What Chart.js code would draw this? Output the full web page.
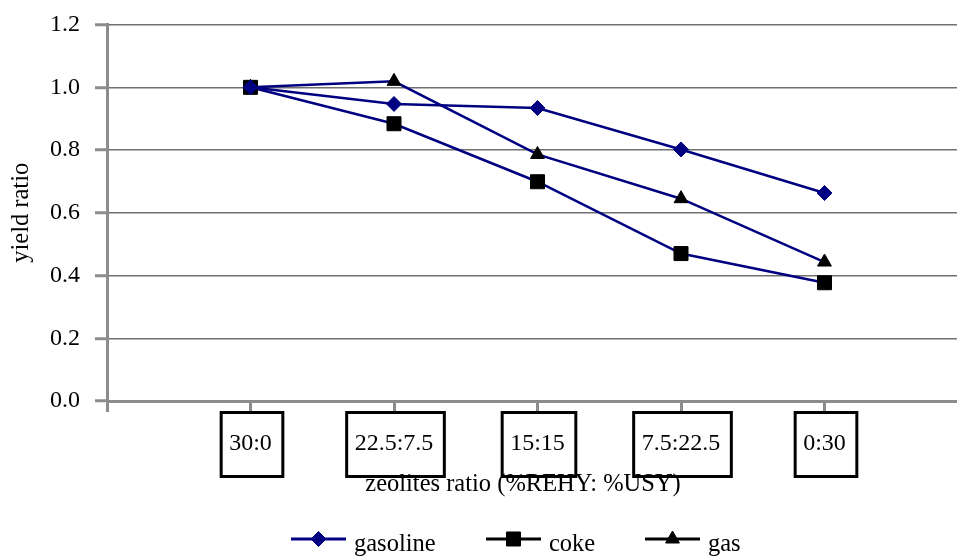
<!DOCTYPE html>
<html lang="en">
<head>
    <meta charset="UTF-8">
    <title>Yield ratio vs zeolites ratio</title>
    <style>
        body {
            margin: 0;
            padding: 0;
            background-color: #ffffff;
            overflow: hidden;
        }
        #wrap {
            width: 1000px;
            height: 559px;
        }
    </style>
</head>
<body>
    <div id="wrap"><canvas id="yieldChart" width="1000" height="559"></canvas></div>

    <script src="https://cdn.jsdelivr.net/npm/chart.js"></script>
    <script>
        // zeolite blends (%REHY : %USY)
        const categories = ['30:0', '22.5:7.5', '15:15', '7.5:22.5', '0:30'];
        const gasoline = [1.0, 0.947, 0.934, 0.802, 0.663];
        const coke = [1.0, 0.884, 0.699, 0.470, 0.377];
        const gas = [1.0, 1.019, 0.786, 0.645, 0.443];
        const yTicks = [0.0, 0.2, 0.4, 0.6, 0.8, 1.0, 1.2];

        const serif = '"Liberation Serif", "Times New Roman", serif';
        const navy = '#000080';
        const axisGray = '#8c8c8c';

        // empty slots either side so the blends sit away from the axis ends
        const axisLabels = [''].concat(categories, ['']);

        function series(label, values, style, color) {
            return {
                label: label,
                data: categories.map((c, i) => ({ x: c, y: values[i] })),
                borderColor: navy,
                borderWidth: 2.5,
                pointStyle: style,
                pointBackgroundColor: color,
                pointBorderColor: color,
                pointBorderWidth: 1,
                pointRadius: style === 'rect' ? 9.9 : (style === 'triangle' ? 8 : 7.5),
                tension: 0
            };
        }

        // boxes round the category labels, the x title and the legend
        const extras = {
            id: 'extras',
            afterDraw(chart) {
                const ctx = chart.ctx;
                const xs = chart.scales.x;
                ctx.save();
                ctx.font = '24px ' + serif;

                // framed category labels
                ctx.strokeStyle = '#000';
                ctx.lineWidth = 3;
                categories.forEach(c => {
                    const px = xs.getPixelForValue(axisLabels.indexOf(c));
                    const tw = ctx.measureText(c).width;
                    ctx.strokeRect(px - tw / 2 - 8, 412.5, tw + 19, 64);
                });

                // x axis title
                ctx.font = '24.5px ' + serif;
                ctx.fillStyle = '#000';
                ctx.textAlign = 'center';
                ctx.textBaseline = 'middle';
                ctx.fillText('zeolites ratio (%REHY: %USY)', 523, 485);

                // legend: line + marker + name
                const starts = [291, 486, 645];
                chart.data.datasets.forEach((ds, i) => {
                    const x0 = starts[i];
                    const col = ds.pointBackgroundColor;
                    ctx.strokeStyle = col;
                    ctx.lineWidth = 3;
                    ctx.beginPath();
                    ctx.moveTo(x0, 539);
                    ctx.lineTo(x0 + 55, 539);
                    ctx.stroke();
                    ctx.fillStyle = col;
                    ctx.lineWidth = 1;
                    Chart.helpers.drawPoint(ctx, {
                        pointStyle: ds.pointStyle,
                        radius: ds.pointRadius,
                        rotation: 0,
                        borderWidth: 1
                    }, x0 + 27.5, 539);
                    ctx.fillStyle = '#000';
                    ctx.textAlign = 'left';
                    ctx.fillText(ds.label, x0 + 63, 545);
                });
                ctx.restore();
            }
        };

        new Chart(document.getElementById('yieldChart'), {
            type: 'line',
            data: {
                labels: axisLabels,
                datasets: [
                    series('gasoline', gasoline, 'rectRot', navy),
                    series('coke', coke, 'rect', '#000000'),
                    series('gas', gas, 'triangle', '#000000')
                ]
            },
            options: {
                responsive: false,
                animation: false,
                layout: { padding: { top: 24, right: 32, left: 0, bottom: 0 } },
                plugins: {
                    legend: { display: false },
                    tooltip: { enabled: false }
                },
                scales: {
                    x: {
                        type: 'category',
                        offset: false,
                        afterFit: s => { s.height = 158; },
                        grid: {
                            drawOnChartArea: false,
                            drawTicks: true,
                            tickLength: 11,
                            tickColor: axisGray,
                            tickWidth: 3
                        },
                        border: { color: axisGray, width: 3 },
                        ticks: {
                            autoSkip: false,
                            maxRotation: 0,
                            padding: 17,
                            color: '#000',
                            font: { family: serif, size: 24 }
                        }
                    },
                    y: {
                        min: 0,
                        max: 1.2,
                        afterFit: s => { s.width = 107; },
                        afterBuildTicks: s => { s.ticks = yTicks.map(v => ({ value: v })); },
                        grid: {
                            color: '#707070',
                            lineWidth: 1.5,
                            tickLength: 12,
                            tickColor: axisGray,
                            tickWidth: 3
                        },
                        border: { color: axisGray, width: 3 },
                        ticks: {
                            padding: 15,
                            color: '#000',
                            font: { family: serif, size: 24, lineHeight: 0.8 },
                            callback: v => Number(v).toFixed(1)
                        },
                        title: {
                            display: true,
                            text: 'yield ratio',
                            color: '#000',
                            font: { family: serif, size: 24.5 },
                            padding: { top: 7, bottom: 0 }
                        }
                    }
                }
            },
            plugins: [extras]
        });
    </script>
</body>
</html>
